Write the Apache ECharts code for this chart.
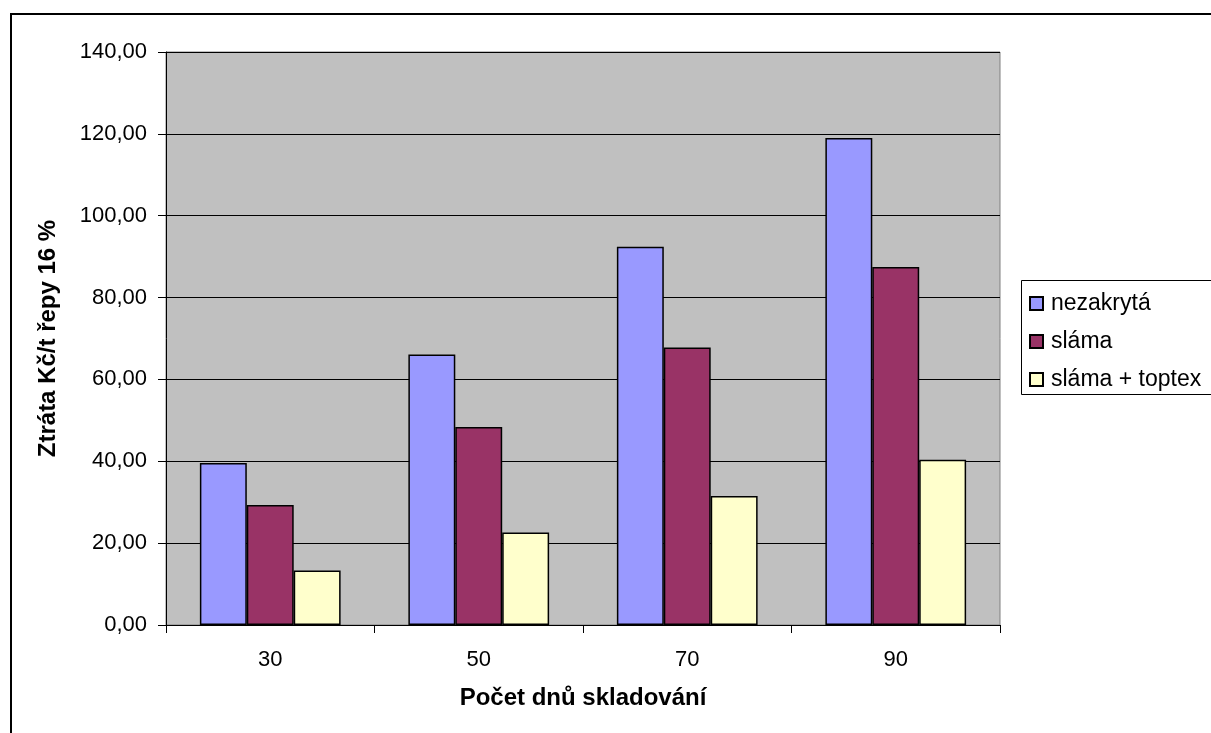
<!DOCTYPE html>
<html>
<head>
<meta charset="utf-8">
<title>Ztráta Kč/t řepy 16 %</title>
<script src="https://cdn.jsdelivr.net/npm/echarts@6/dist/echarts.min.js"></script>
<style>
  html, body { margin: 0; padding: 0; background: #ffffff; }
  #chart { width: 1211px; height: 733px; }
</style>
</head>
<body>
<div id="chart"></div>
<script>
// Storage days on the category axis
const days = ['30', '50', '70', '90'];

// Loss in CZK per tonne of beet (16 %) by covering method
const seriesNames = ['nezakrytá', 'sláma', 'sláma + toptex'];
const nezakryta = [39.6, 66.1, 92.4, 119.0];
const slama = [29.3, 48.4, 67.8, 87.5];
const slamaToptex = [13.3, 22.6, 31.5, 40.4];

// Value axis ticks
const yMin = 0;
const yMax = 140;
const yStep = 20;

const colors = ['#9999FF', '#993366', '#FFFFCC'];
const font = "Arial, 'Liberation Sans', sans-serif";

const chart = echarts.init(document.getElementById('chart'), null, { renderer: 'canvas' });

const barStyle = (c) => ({ color: c, borderColor: '#000000', borderWidth: 1.5 });

chart.setOption({
  animation: false,
  backgroundColor: '#ffffff',
  textStyle: { fontFamily: font, color: '#000000' },
  grid: {
    left: 166, right: 211, top: 52, bottom: 108,
    show: true, backgroundColor: '#C0C0C0', borderColor: '#808080', borderWidth: 1
  },
  legend: {
    orient: 'vertical',
    left: 1029, top: 291,
    padding: 0,
    itemWidth: 13, itemHeight: 13, itemGap: 13,
    icon: 'rect',
    textStyle: { fontFamily: font, fontSize: 23, color: '#000000', lineHeight: 25, padding: [0, 0, 0, 3] },
    data: seriesNames
  },
  xAxis: {
    type: 'category',
    data: days,
    name: 'Počet dnů skladování',
    nameLocation: 'middle',
    nameGap: 61,
    nameTextStyle: { fontFamily: font, fontSize: 24, fontWeight: 'bold', color: '#000000' },
    axisLine: { lineStyle: { color: '#000000', width: 1 } },
    axisTick: { show: true, length: 8, lineStyle: { color: '#000000' } },
    axisLabel: { fontFamily: font, fontSize: 22, color: '#000000', margin: 24 },
    splitLine: { show: false }
  },
  yAxis: {
    type: 'value',
    min: yMin, max: yMax, interval: yStep,
    name: 'Ztráta Kč/t řepy 16 %',
    nameLocation: 'middle',
    nameGap: 106,
    nameTextStyle: { fontFamily: font, fontSize: 24, fontWeight: 'bold', color: '#000000' },
    axisLine: { show: true, lineStyle: { color: '#000000', width: 1 } },
    axisTick: { show: true, length: 8, lineStyle: { color: '#000000' } },
    axisLabel: {
      fontFamily: font, fontSize: 22, color: '#000000', margin: 19,
      formatter: (v) => v.toFixed(2).replace('.', ',')
    },
    splitLine: { show: true, lineStyle: { color: '#000000', width: 1.2 } }
  },
  series: [
    { name: seriesNames[0], type: 'bar', data: nezakryta, itemStyle: barStyle(colors[0]), barGap: '0%', barCategoryGap: '32.5%' },
    { name: seriesNames[1], type: 'bar', data: slama, itemStyle: barStyle(colors[1]), barGap: '0%', barCategoryGap: '32.5%' },
    { name: seriesNames[2], type: 'bar', data: slamaToptex, itemStyle: barStyle(colors[2]), barGap: '0%', barCategoryGap: '32.5%' }
  ],
  graphic: [
    // outer chart frame
    { type: 'rect', shape: { x: 11, y: 14, width: 1400, height: 900 },
      style: { fill: 'none', stroke: '#000000', lineWidth: 2 }, silent: true, z: 100 },
    // legend frame
    { type: 'rect', shape: { x: 1021.5, y: 280.5, width: 300, height: 114 },
      style: { fill: '#ffffff', stroke: '#000000', lineWidth: 1 }, silent: true, z: -1 }
  ]
});
</script>
</body>
</html>
